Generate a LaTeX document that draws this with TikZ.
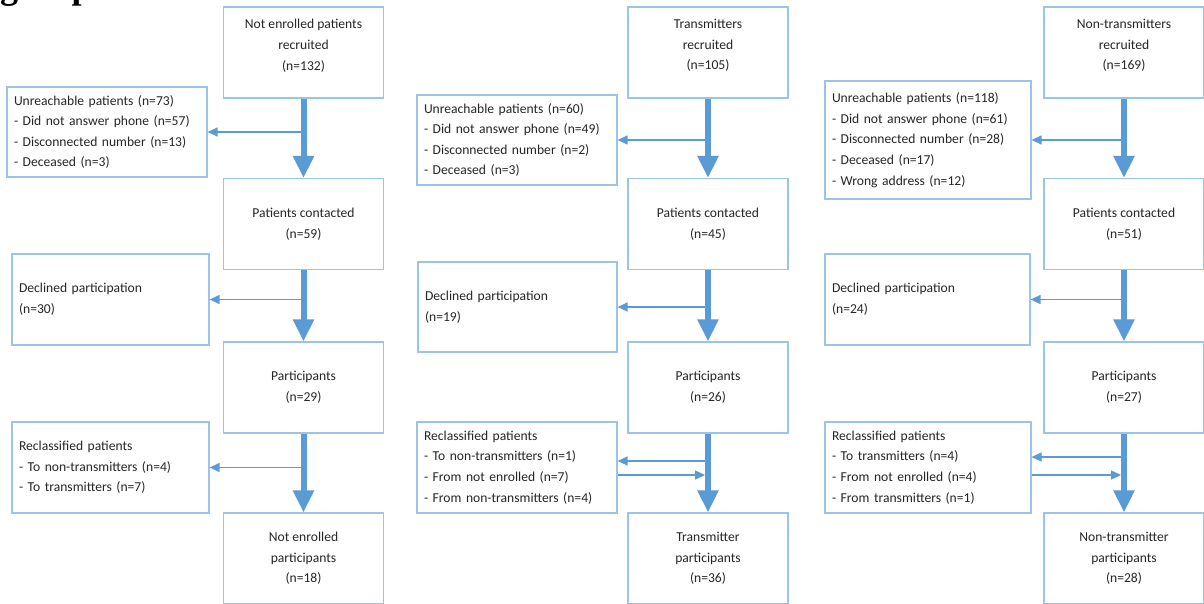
\documentclass[tikz,border=0pt]{standalone}
\usepackage{fontspec}
\setmainfont{Carlito}
\newfontfamily\titlefont{Liberation Serif}
\usetikzlibrary{arrows.meta}
\definecolor{boxc}{HTML}{9DC3E6}
\definecolor{arrc}{HTML}{5B9BD5}
\definecolor{txtc}{HTML}{262626}
\begin{document}
\begin{tikzpicture}[x=1pt,y=-1pt,
  every node/.style={font=\fontsize{13.6}{20.6}\selectfont, text=txtc},
  mainbox/.style={draw=boxc, line width=1.2pt, minimum width=160pt, minimum height=91pt, inner sep=0pt, align=center},
  sidebox/.style={draw=boxc, line width=1.2pt, inner xsep=7pt, inner ysep=0pt, align=left},
  flowarr/.style={draw=arrc, line width=6pt, -{Triangle[width=20pt,length=22pt]}},
  sidearr/.style={draw=arrc, line width=1.3pt, -{Triangle[width=9pt,length=10pt]}}
]
\useasboundingbox (0,0) rectangle (1204,603);
\clip (0,0) rectangle (1204,603);
\fill[white] (0,0) rectangle (1204,603);

\node[font=\titlefont\bfseries\fontsize{36}{40}\selectfont, anchor=base west, inner sep=0pt, text=black] (title) at (0,-2) {group};

% column 1
\node[mainbox] (a1) at (303.5,52.5) {Not enrolled patients\\recruited\\(n=132)\\[-5pt]\mbox{}};
\node[mainbox] (b1) at (303.5,224) {Patients contacted\\(n=59)};
\node[mainbox] (c1) at (303.5,387.5) {Participants\\(n=29)};
\node[mainbox] (d1) at (303.5,558.5) {Not enrolled\\participants\\(n=18)};
\node[sidebox, text width=186pt, minimum height=90pt] (u1) at (107,132) {Unreachable patients (n=73)\\- Did not answer phone (n=57)\\- Disconnected number (n=13)\\- Deceased (n=3)};
\node[sidebox, text width=183pt, minimum height=91pt] (e1) at (110.5,299.5) {Declined participation\\(n=30)};
\node[sidebox, text width=183pt, minimum height=91pt] (r1) at (110.5,467.5) {Reclassified patients\\- To non-transmitters (n=4)\\- To transmitters (n=7)};

% column 2
\node[mainbox] (a2) at (708,52.5) {Transmitters\\recruited\\(n=105)\\[-5pt]\mbox{}};
\node[mainbox] (b2) at (708,224) {Patients contacted\\(n=45)};
\node[mainbox] (c2) at (708,387.5) {Participants\\(n=26)};
\node[mainbox] (d2) at (708,558.5) {Transmitter\\participants\\(n=36)};
\node[sidebox, text width=186pt, minimum height=90pt] (u2) at (517,140) {Unreachable patients (n=60)\\- Did not answer phone (n=49)\\- Disconnected number (n=2)\\- Deceased (n=3)};
\node[sidebox, text width=185pt, minimum height=90pt] (e2) at (517.5,307) {Declined participation\\(n=19)};
\node[sidebox, text width=186pt, minimum height=91pt] (r2) at (517,467.5) {Reclassified patients\\- To non-transmitters (n=1)\\- From not enrolled (n=7)\\- From non-transmitters (n=4)};

% column 3
\node[mainbox] (a3) at (1124,52.5) {Non-transmitters\\recruited\\(n=169)\\[-5pt]\mbox{}};
\node[mainbox] (b3) at (1124,224) {Patients contacted\\(n=51)};
\node[mainbox] (c3) at (1124,387.5) {Participants\\(n=27)};
\node[mainbox] (d3) at (1124,558.5) {Non-transmitter\\participants\\(n=28)};
\node[sidebox, text width=192pt, minimum height=118pt] (u3) at (928,140) {Unreachable patients (n=118)\\- Did not answer phone (n=61)\\- Disconnected number (n=28)\\- Deceased (n=17)\\- Wrong address (n=12)};
\node[sidebox, text width=191pt, minimum height=91pt] (e3) at (927.5,299.5) {Declined participation\\(n=24)};
\node[sidebox, text width=192pt, minimum height=91pt] (r3) at (928,467.5) {Reclassified patients\\- To transmitters (n=4)\\- From not enrolled (n=4)\\- From transmitters (n=1)};

% side arrows
\draw[sidearr] (u1.east -| a1.south) -- (u1.east);
\draw[sidearr] (e1.east -| b1.south) -- (e1.east);
\draw[sidearr] (r1.east -| c1.south) -- (r1.east);

\draw[sidearr] (u2.east -| a2.south) -- (u2.east);
\draw[sidearr] (e2.east -| b2.south) -- (e2.east);
\coordinate (r2in) at ([yshift=6.5pt]r2.east);
\coordinate (r2out) at ([yshift=-7.5pt]r2.east);
\draw[sidearr] (r2in -| c2.south) -- (r2in);
\draw[sidearr, shorten >=3pt] (r2out) -- (r2out -| c2.south);

\draw[sidearr] (u3.east -| a3.south) -- (u3.east);
\draw[sidearr] (e3.east -| b3.south) -- (e3.east);
\coordinate (r3in) at ([yshift=10.5pt]r3.east);
\coordinate (r3out) at ([yshift=-7.5pt]r3.east);
\draw[sidearr] (r3in -| c3.south) -- (r3in);
\draw[sidearr, shorten >=3pt] (r3out) -- (r3out -| c3.south);

% main flow arrows
\draw[flowarr] (a1) -- (b1);
\draw[flowarr] (b1) -- (c1);
\draw[flowarr] (c1) -- (d1);
\draw[flowarr] (a2) -- (b2);
\draw[flowarr] (b2) -- (c2);
\draw[flowarr] (c2) -- (d2);
\draw[flowarr] (a3) -- (b3);
\draw[flowarr] (b3) -- (c3);
\draw[flowarr] (c3) -- (d3);
\end{tikzpicture}
\end{document}
